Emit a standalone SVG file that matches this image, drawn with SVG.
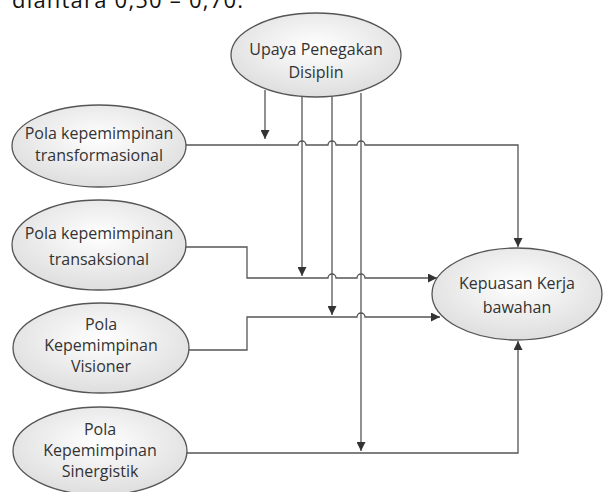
<svg xmlns="http://www.w3.org/2000/svg" width="603" height="492" viewBox="0 0 603 492">
<defs>
<radialGradient id="g" cx="50%" cy="40%" r="60%">
<stop offset="0" stop-color="#ffffff"/>
<stop offset="1" stop-color="#dedede"/>
</radialGradient>
<marker id="ah" viewBox="0 0 10 10" refX="10" refY="5" markerWidth="9" markerHeight="9" markerUnits="userSpaceOnUse" orient="auto">
<path d="M0,0 L10,5 L0,10 z" fill="#333"/>
</marker>
</defs>
<style>
.n ellipse{fill:url(#g);stroke:#555;stroke-width:1.3}
.n text{font-family:"Open Sans","Noto Sans",sans-serif;font-size:16px;fill:#333;text-anchor:middle}
.c path{fill:none;stroke:#555;stroke-width:1.3}
.hd{font-family:"Open Sans","Noto Sans",sans-serif;font-size:22px;fill:#111}
</style>
<text class="hd" x="12" y="8" textLength="231">diantara 0,50 – 0,70.</text>
<g class="c">
<path d="M265,90 L265,139" marker-end="url(#ah)"/>
<path d="M302,96 L302,276" marker-end="url(#ah)"/>
<path d="M332,96 L332,315" marker-end="url(#ah)"/>
<path d="M361,93 L361,451" marker-end="url(#ah)"/>
<path d="M186,145 L298,145 A4,4 0 0 1 306,145 L328,145 A4,4 0 0 1 336,145 L357,145 A4,4 0 0 1 365,145 L518,145 L518,247" marker-end="url(#ah)"/>
<path d="M185,247 L247,247 L247,278 L328,278 A4,4 0 0 1 336,278 L357,278 A4,4 0 0 1 365,278 L437,278" marker-end="url(#ah)"/>
<path d="M188,350 L247,350 L247,317 L357,317 A4,4 0 0 1 365,317 L440,317" marker-end="url(#ah)"/>
<path d="M186,453 L518,453 L518,341" marker-end="url(#ah)"/>
</g>
<g id="upaya" class="n">
<ellipse cx="316" cy="55" rx="85" ry="42"/>
<text x="316" y="55">Upaya Penegakan</text>
<text x="316" y="78">Disiplin</text>
</g>
<g id="transformasional" class="n">
<ellipse cx="99" cy="146" rx="87" ry="41"/>
<text x="99" y="139">Pola kepemimpinan</text>
<text x="99" y="161">transformasional</text>
</g>
<g id="transaksional" class="n">
<ellipse cx="99" cy="245" rx="87" ry="45"/>
<text x="99" y="239">Pola kepemimpinan</text>
<text x="99" y="265">transaksional</text>
</g>
<g id="visioner" class="n">
<ellipse cx="101" cy="348" rx="88" ry="45"/>
<text x="101" y="330">Pola</text>
<text x="101" y="351">Kepemimpinan</text>
<text x="101" y="372">Visioner</text>
</g>
<g id="sinergistik" class="n">
<ellipse cx="100" cy="451" rx="87" ry="44"/>
<text x="100" y="435">Pola</text>
<text x="100" y="456">Kepemimpinan</text>
<text x="100" y="477">Sinergistik</text>
</g>
<g id="kepuasan" class="n">
<ellipse cx="517" cy="294" rx="85" ry="46"/>
<text x="517" y="289">Kepuasan Kerja</text>
<text x="517" y="313">bawahan</text>
</g>
</svg>
